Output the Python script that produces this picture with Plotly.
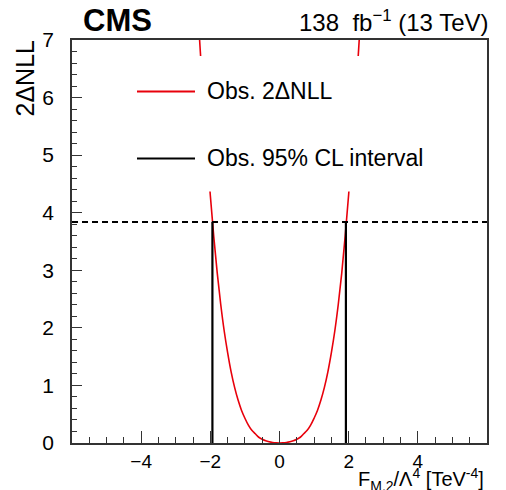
import plotly.graph_objects as go

scan_x = [-2.35, -2.3, -2.2, -2.1, -2.0, -1.9, -1.8, -1.7, -1.6, -1.5, -1.4, -1.3, -1.2, -1.1, -1.0,
          -0.9, -0.8, -0.7, -0.6, -0.5, -0.4, -0.3, -0.2, -0.1, 0.0,
          0.1, 0.2, 0.3, 0.4, 0.5, 0.6, 0.7, 0.8, 0.9, 1.0, 1.1, 1.2, 1.3, 1.4, 1.5,
          1.6, 1.7, 1.8, 1.9, 2.0, 2.1, 2.2, 2.3, 2.35]
scan_y = [7.4, 6.9, 5.95, 5.08, 4.30, 3.58, 2.95, 2.41, 1.95, 1.57, 1.24, 0.97, 0.75, 0.57, 0.43,
          0.31, 0.22, 0.16, 0.10, 0.066, 0.039, 0.021, 0.009, 0.002, 0.0,
          0.002, 0.009, 0.021, 0.039, 0.066, 0.10, 0.16, 0.22, 0.31, 0.43, 0.57, 0.75, 0.97, 1.24, 1.57,
          1.95, 2.41, 2.95, 3.60, 4.32, 5.12, 6.0, 6.95, 7.45]

# 95% CL interval
cl_threshold = 3.84
cl_low = -1.94
cl_high = 1.92

x_range = [-6, 6]
y_range = [0, 7]
x_ticks = [-4, -2, 0, 2, 4]
y_ticks = [0, 1, 2, 3, 4, 5, 6, 7]

legend_labels = ["Obs. 2\u0394NLL", "Obs. 95% CL interval"]
legend_colors = ["#e8000b", "black"]

FONT = "Liberation Sans, Arial, Helvetica, sans-serif"
PW = 415.0  # plot width in px

fig = go.Figure()

fig.add_trace(go.Scatter(x=scan_x, y=scan_y, mode="lines", line=dict(color="#e8000b", width=1.6, shape="spline"),
                         showlegend=False, hoverinfo="skip"))
fig.add_trace(go.Scatter(x=x_range, y=[cl_threshold, cl_threshold], mode="lines",
                         line=dict(color="black", width=2, dash="6px,4px"), showlegend=False))
fig.add_trace(go.Scatter(x=[cl_low, cl_low, None, cl_high, cl_high], y=[0, cl_threshold, None, 0, cl_threshold],
                         mode="lines", line=dict(color="black", width=2.2), showlegend=False))

# white legend box hiding the curve behind it
fig.add_shape(type="rect", xref="x", yref="y", x0=-4.3, x1=5.6, y0=4.37, y1=6.72,
              fillcolor="white", line=dict(width=0), layer="above")

# legend entries
leg_y = [0.8725, 0.706]
for lab, col, yy in zip(legend_labels, legend_colors, leg_y):
    fig.add_shape(type="line", xref="paper", yref="paper", x0=(137 - 72) / PW, x1=(195 - 72) / PW,
                  y0=yy, y1=yy, line=dict(color=col, width=2), layer="above")
    fig.add_annotation(text=lab, xref="paper", yref="paper", x=(205 - 72) / PW, y=yy,
                       xanchor="left", yanchor="middle", showarrow=False,
                       font=dict(size=23, color="black", family=FONT))

axis_common = dict(showline=True, linecolor="#333333", linewidth=1.5, mirror=True,
                   ticks="inside", showgrid=False, zeroline=False, tickcolor="#333333")

fig.update_xaxes(range=x_range, tickvals=x_ticks, ticklen=12, tickwidth=1.2, ticklabelstandoff=0,
                 tickfont=dict(size=19, color="black", family=FONT),
                 minor=dict(dtick=0.5, ticklen=6, ticks="inside", tickcolor="#333333", tickwidth=1), **axis_common)
fig.update_yaxes(range=y_range, tickvals=y_ticks, ticklen=10, tickwidth=1.2, ticklabelstandoff=12,
                 tickfont=dict(size=21, color="black", family=FONT),
                 minor=dict(dtick=0.2, ticklen=5, ticks="inside", tickcolor="#333333", tickwidth=1), **axis_common)

fig.add_annotation(text="<b>CMS</b>", xref="paper", yref="paper", x=(81 - 72) / PW, y=1.0,
                   xanchor="left", yanchor="bottom", yshift=0, showarrow=False,
                   font=dict(size=31, color="black", family=FONT))
fig.add_annotation(text="138  fb<sup>\u22121</sup> (13 TeV)", xref="paper", yref="paper", x=1.0, y=1.0,
                   xanchor="right", yanchor="bottom", showarrow=False, xshift=3, yshift=2,
                   font=dict(size=24, color="black", family=FONT))
fig.add_annotation(text="2\u0394NLL", xref="paper", yref="paper", x=0, y=1.0, xanchor="center",
                   yanchor="top", textangle=-90, showarrow=False, xshift=-48, yshift=2,
                   font=dict(size=25, color="black", family=FONT))
fig.add_annotation(text="F<sub>M,2</sub>/\u039b<sup>4</sup> [TeV<sup>-4</sup>]", xref="paper", yref="paper",
                   x=1.0, y=0, xanchor="right", yanchor="top", yshift=-20, xshift=-1, showarrow=False,
                   font=dict(size=20, color="black", family=FONT))

# page body adds an 8 px margin, so the figure is made 8 px smaller
fig.update_layout(width=498, height=482, margin=dict(l=64, r=19, t=32, b=47),
                  plot_bgcolor="white", paper_bgcolor="white", showlegend=False)

fig.write_html("out.html")
